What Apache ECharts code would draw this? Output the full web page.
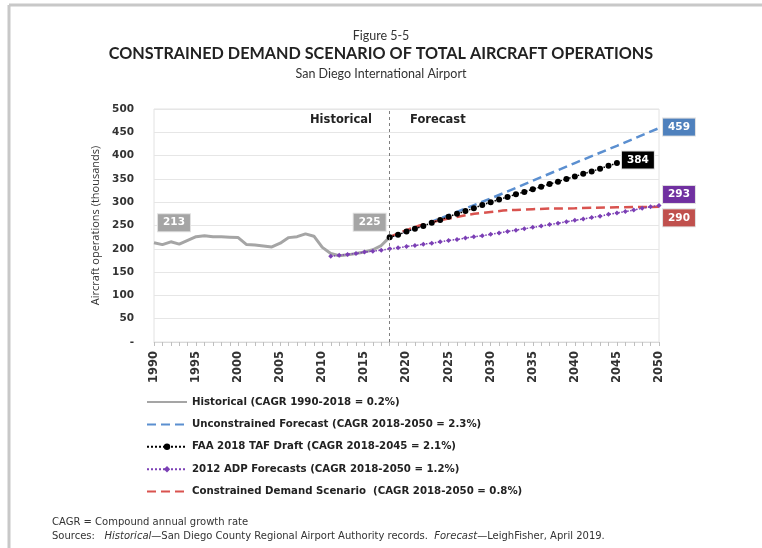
<!DOCTYPE html>
<html>
<head>
<meta charset="utf-8">
<script src="https://cdn.jsdelivr.net/npm/echarts@6/dist/echarts.min.js"></script>
<style>
  html, body { margin: 0; padding: 0; background: #fff; }
  #chart { width: 762px; height: 548px; }
</style>
</head>
<body>
<div id="chart"></div>
<script>
// historical
const histYears = [1990, 1991, 1992, 1993, 1994, 1995, 1996, 1997, 1998, 1999, 2000, 2001, 2002, 2003, 2004,
  2005, 2006, 2007, 2008, 2009, 2010, 2011, 2012, 2013, 2014, 2015, 2016, 2017, 2018]
const histValues = [213, 209, 215, 210, 218, 226, 228, 226, 226, 225, 224, 209, 208, 206, 204,
  212, 224, 226, 232, 227, 203, 190, 185, 187, 190, 193, 198, 207, 225]

// unconstrained forecast, read every 5 yrs
const unconYears = [2018, 2020, 2025, 2030, 2035, 2040, 2045, 2050]
const unconValues = [225, 238, 272, 308, 346, 384, 421, 459]

// FAA 2018 TAF draft
const tafYears = [2018, 2019, 2020, 2021, 2022, 2023, 2024, 2025, 2026, 2027, 2028, 2029, 2030, 2031,
  2032, 2033, 2034, 2035, 2036, 2037, 2038, 2039, 2040, 2041, 2042, 2043, 2044, 2045]
const tafValues = [225, 230, 237, 243, 249, 256, 262, 269, 275, 281, 287, 294, 300, 306,
  311, 317, 322, 328, 333, 339, 344, 350, 355, 361, 366, 372, 378, 384]

// 2012 ADP forecasts
const adpYears = [2011, 2012, 2013, 2014, 2015, 2016, 2017, 2018, 2019, 2020, 2021, 2022, 2023, 2024,
  2025, 2026, 2027, 2028, 2029, 2030, 2031, 2032, 2033, 2034, 2035, 2036, 2037, 2038, 2039, 2040,
  2041, 2042, 2043, 2044, 2045, 2046, 2047, 2048, 2049, 2050]
const adpValues = [184, 186, 188, 190, 193, 195, 197, 200, 202, 205, 207, 210, 212, 215,
  218, 220, 223, 226, 228, 231, 234, 237, 240, 243, 246, 249, 252, 255, 258, 261,
  264, 267, 270, 274, 277, 280, 283, 287, 290, 293]

// constrained demand scenario
const consYears = [2018, 2020, 2022, 2025, 2030, 2035, 2040, 2045, 2050]
const consValues = [225, 240, 252, 265, 279, 285, 287, 289, 290]

const xTicks = [1990, 1995, 2000, 2005, 2010, 2015, 2020, 2025, 2030, 2035, 2040, 2045, 2050]

const seriesNames = [
  'Historical (CAGR 1990-2018 = 0.2%)',
  'Unconstrained Forecast (CAGR 2018-2050 = 2.3%)',
  'FAA 2018 TAF Draft (CAGR 2018-2045 = 2.1%)',
  '2012 ADP Forecasts (CAGR 2018-2050 = 1.2%)',
  'Constrained Demand Scenario  (CAGR 2018-2050 = 0.8%)'
]

const font = 'Lato, "Open Sans", sans-serif'
const dv = '"DejaVu Sans", sans-serif'

function pairs(xs, ys) {
  return xs.map((x, i) => [x, ys[i]])
}

function boxStyle(color, offset) {
  return {
    show: true,
    position: 'inside',
    offset: offset,
    color: '#fff',
    fontWeight: 'bold',
    fontSize: 10.5,
    fontFamily: dv,
    backgroundColor: color,
    padding: [3, 5, 3, 5],
    borderColor: '#e0e0e0',
    borderWidth: 1
  }
}

// boxed value on a point that has no symbol
function endMark(xs, ys, idx, color, offset) {
  return {
    symbol: 'circle',
    symbolSize: 1,
    silent: true,
    itemStyle: { color: 'rgba(0,0,0,0)' },
    label: Object.assign(boxStyle(color, offset), { formatter: '{c}' }),
    data: [{ coord: [xs[idx], ys[idx]], value: ys[idx] }]
  }
}

// boxed value on a point with a symbol
function boxLabel(data, idx, color, offset) {
  data[idx] = {
    value: data[idx],
    label: Object.assign(boxStyle(color, offset), { formatter: '{@[1]}' })
  }
  return data
}

const tafData = boxLabel(pairs(tafYears, tafValues), tafYears.length - 1, '#000', [21, -3])
const adpData = boxLabel(pairs(adpYears, adpValues), adpYears.length - 1, '#7030a0', [20, -11])

const histMarks = endMark(histYears, histValues, 0, '#a5a5a5', [20, -20])
histMarks.data.push({
  coord: [histYears[histYears.length - 1], histValues[histValues.length - 1]],
  value: histValues[histValues.length - 1],
  label: { offset: [-20, -15] }
})

const noMark = { opacity: 0 }

const chart = echarts.init(document.getElementById('chart'))
chart.setOption({
  animation: false,
  textStyle: { fontFamily: font },
  title: [
    { text: 'Figure 5-5', left: 'center', top: 24, textStyle: { fontSize: 12.5, fontWeight: 'normal', color: '#333', fontFamily: font } },
    { text: 'CONSTRAINED DEMAND SCENARIO OF TOTAL AIRCRAFT OPERATIONS', left: 'center', top: 41, textStyle: { fontSize: 16.2, fontWeight: 'bold', color: '#222', fontFamily: font } },
    { text: 'San Diego International Airport', left: 'center', top: 62, textStyle: { fontSize: 12.5, fontWeight: 'normal', color: '#333', fontFamily: font } }
  ],
  grid: { left: 154, right: 103, top: 109, bottom: 206, show: true, borderColor: '#e2e2e2', borderWidth: 1 },
  legend: {
    orient: 'vertical',
    left: 141,
    top: 392,
    itemWidth: 40,
    itemHeight: 8,
    itemGap: 12.4,
    textStyle: { fontSize: 10.2, fontWeight: 'bold', color: '#222', fontFamily: dv },
    data: [
      { name: seriesNames[0], itemStyle: noMark },
      { name: seriesNames[1], itemStyle: noMark },
      { name: seriesNames[2] },
      { name: seriesNames[3] },
      { name: seriesNames[4], itemStyle: noMark }
    ]
  },
  xAxis: {
    type: 'value',
    min: 1990,
    max: 2050,
    interval: 5,
    axisLine: { show: true, lineStyle: { color: '#d9d9d9' } },
    axisTick: { show: true, length: 4, lineStyle: { color: '#bfbfbf' } },
    minorTick: { show: true, splitNumber: 5, length: 4, lineStyle: { color: '#bfbfbf' } },
    splitLine: { show: false },
    axisLabel: {
      rotate: 90,
      fontSize: 11.5,
      fontWeight: 'bold',
      fontFamily: dv,
      color: '#333',
      margin: 9,
      customValues: xTicks,
      formatter: v => String(v)
    }
  },
  yAxis: {
    type: 'value',
    min: 0,
    max: 500,
    interval: 50,
    name: 'Aircraft operations (thousands)',
    nameLocation: 'middle',
    nameGap: 44,
    nameTextStyle: { fontSize: 11, fontWeight: 'normal', color: '#333', fontFamily: '"Open Sans", sans-serif' },
    axisLine: { show: false },
    axisTick: { show: false },
    splitLine: { lineStyle: { color: '#e6e6e6' } },
    axisLabel: {
      fontSize: 10.5,
      fontWeight: 'bold',
      fontFamily: dv,
      color: '#333',
      margin: 20,
      formatter: v => (v === 0 ? '-' : String(v))
    }
  },
  series: [
    {
      name: seriesNames[0],
      type: 'line',
      data: pairs(histYears, histValues),
      symbol: 'none',
      z: 3,
      lineStyle: { color: '#a5a5a5', width: 3 },
      itemStyle: { color: '#a5a5a5' },
      markPoint: histMarks,
      markLine: {
        silent: true,
        symbol: 'none',
        label: { show: false },
        lineStyle: { color: '#7f7f7f', type: [3, 3], width: 1 },
        data: [{ xAxis: 2018 }]
      }
    },
    {
      name: seriesNames[1],
      type: 'line',
      data: pairs(unconYears, unconValues),
      symbol: 'none',
      z: 2,
      lineStyle: { color: '#5b8fd0', width: 2.5, type: [9, 5] },
      itemStyle: { color: '#5b8fd0' },
      markPoint: endMark(unconYears, unconValues, unconYears.length - 1, '#4f81bd', [20, -1])
    },
    {
      name: seriesNames[2],
      type: 'line',
      data: tafData,
      symbol: 'circle',
      symbolSize: 6,
      showAllSymbol: true,
      z: 4,
      lineStyle: { color: '#000', width: 1.5, type: 'dotted' },
      itemStyle: { color: '#000' }
    },
    {
      name: seriesNames[3],
      type: 'line',
      data: adpData,
      symbol: 'diamond',
      symbolSize: 5,
      showAllSymbol: true,
      z: 4,
      lineStyle: { color: '#7b3fb5', width: 1.5, type: 'dotted' },
      itemStyle: { color: '#7b3fb5' }
    },
    {
      name: seriesNames[4],
      type: 'line',
      data: pairs(consYears, consValues),
      symbol: 'none',
      smooth: true,
      z: 3,
      lineStyle: { color: '#d9534f', width: 2.5, type: [9, 5] },
      itemStyle: { color: '#d9534f' },
      markPoint: endMark(consYears, consValues, consYears.length - 1, '#c0504d', [20, 11])
    }
  ],
  graphic: [
    { type: 'line', shape: { x1: 9, y1: 5, x2: 9, y2: 548 }, style: { stroke: '#c8c8c8', lineWidth: 3 } },
    { type: 'line', shape: { x1: 9, y1: 5, x2: 762, y2: 5 }, style: { stroke: '#c8c8c8', lineWidth: 3 } },
    { type: 'text', left: 310, top: 114, style: { text: 'Historical', font: 'bold 11.5px ' + dv, fill: '#222' } },
    { type: 'text', left: 410, top: 114, style: { text: 'Forecast', font: 'bold 11.5px ' + dv, fill: '#222' } },
    { type: 'text', left: 52, top: 517, style: { text: 'CAGR = Compound annual growth rate', font: '10px ' + dv, fill: '#333' } },
    {
      type: 'text', left: 52, top: 531,
      style: {
        rich: { i: { fontStyle: 'italic', fontSize: 10, fontFamily: dv, fill: '#333' } },
        text: 'Sources:   {i|Historical}—San Diego County Regional Airport Authority records.  {i|Forecast}—LeighFisher, April 2019.',
        font: '10px ' + dv, fill: '#333'
      }
    }
  ]
})
</script>
</body>
</html>
